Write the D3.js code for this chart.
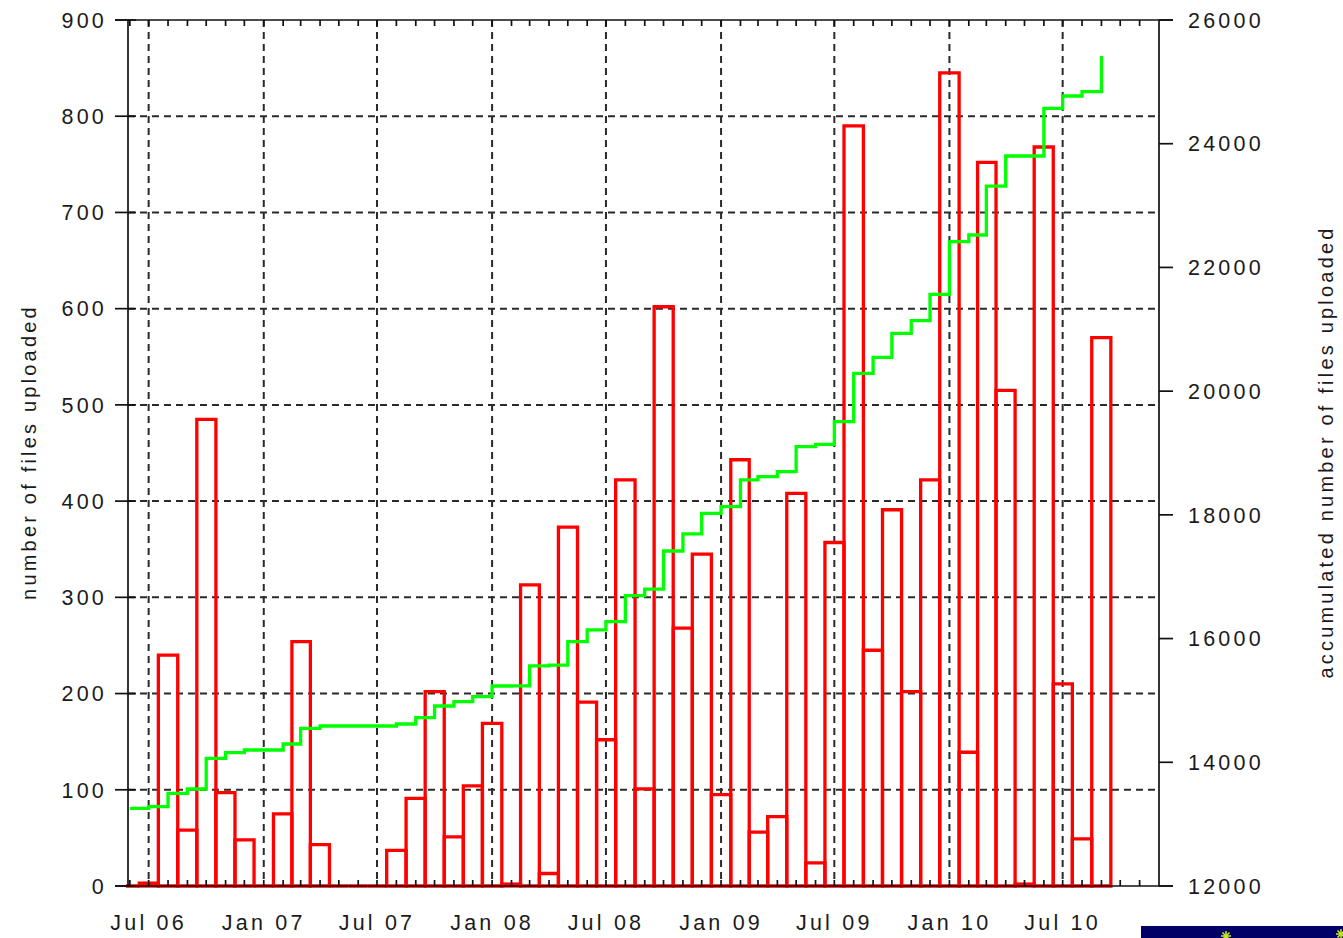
<!DOCTYPE html>
<html>
<head>
<meta charset="utf-8">
<script src="https://cdn.jsdelivr.net/npm/d3@7"></script>
<style>
  html, body { margin: 0; padding: 0; background: #fff; }
  svg { display: block; }
  text { font-family: "Liberation Sans", Arial, Helvetica, sans-serif; fill: #1a1a1a; }
</style>
</head>
<body>
<svg id="chart" width="1343" height="938"></svg>
<script>
// ---- data ----
const months = [
  "2006-06","2006-07","2006-08","2006-09","2006-10","2006-11","2006-12",
  "2007-01","2007-02","2007-03","2007-04","2007-05","2007-06","2007-07","2007-08","2007-09","2007-10","2007-11","2007-12",
  "2008-01","2008-02","2008-03","2008-04","2008-05","2008-06","2008-07","2008-08","2008-09","2008-10","2008-11","2008-12",
  "2009-01","2009-02","2009-03","2009-04","2009-05","2009-06","2009-07","2009-08","2009-09","2009-10","2009-11","2009-12",
  "2010-01","2010-02","2010-03","2010-04","2010-05","2010-06","2010-07","2010-08","2010-09"
];
const uploads = [
  0, 3, 240, 58, 485, 97, 48,
  0, 75, 254, 43, 0, 0, 0, 37, 91, 202, 51, 104,
  169, 2, 313, 13, 373, 191, 152, 422, 101, 602, 268, 345,
  95, 443, 56, 72, 408, 24, 357, 790, 245, 391, 202, 422,
  845, 139, 752, 515, 2, 768, 210, 49, 570
];
const accumulated = [
  13256, 13282, 13499, 13568, 14064, 14155, 14199,
  14199, 14296, 14549, 14587, 14587, 14587, 14587, 14619, 14721, 14910, 14980, 15060,
  15233, 15236, 15557, 15571, 15950, 16139, 16273, 16693, 16800, 17416, 17691, 18025,
  18132, 18564, 18617, 18698, 19102, 19140, 19506, 20288, 20547, 20935, 21139, 21565,
  22416, 22524, 23316, 23801, 23801, 24572, 24771, 24841, 25418
];
const leftTicks = [0, 100, 200, 300, 400, 500, 600, 700, 800, 900];
const rightTicks = [12000, 14000, 16000, 18000, 20000, 22000, 24000, 26000];
const xTickDates = ["2006-07","2007-01","2007-07","2008-01","2008-07","2009-01","2009-07","2010-01","2010-07"];
const xTickLabels = ["Jul 06","Jan 07","Jul 07","Jan 08","Jul 08","Jan 09","Jul 09","Jan 10","Jul 10"];
const leftTitle = "number of files uploaded";
const rightTitle = "accumulated number of files uploaded";

// ---- layout ----
const L = 128, R = 1159, T = 20, B = 886;
const parse = d3.utcParse("%Y-%m");
const svg = d3.select("#chart");
svg.append("rect").attr("width", 1343).attr("height", 938).attr("fill", "#fff");

const x = d3.scaleUtc()
  .domain([new Date(Date.UTC(2006, 4, 29)), new Date(Date.UTC(2010, 11, 2))])
  .range([L, R]);
const y = d3.scaleLinear().domain([0, 900]).range([B, T]);
const y2 = d3.scaleLinear().domain([12000, 26000]).range([B, T]);

const monthDates = months.map(parse);

// clip
svg.append("defs").append("clipPath").attr("id", "plotclip")
  .append("rect").attr("x", L - 2).attr("y", T).attr("width", R - L + 2).attr("height", B - T + 3);

// ---- grid (behind data) ----
const grid = svg.append("g").attr("stroke", "#2a2a2a").attr("stroke-width", 2)
  .attr("stroke-dasharray", "7,5");
grid.selectAll("line.h").data(leftTicks.slice(1, -1)).join("line").attr("class", "h")
  .attr("x1", L).attr("x2", R).attr("y1", d => y(d)).attr("y2", d => y(d));
grid.selectAll("line.v").data(xTickDates.map(parse)).join("line").attr("class", "v")
  .attr("x1", d => x(d)).attr("x2", d => x(d)).attr("y1", T).attr("y2", B);

// ---- bars (monthly boxes, centred on the 1st of each month) ----
const edge = (d, k) => x(new Date((+d + +d3.utcMonth.offset(d, k)) / 2));
const bars = svg.append("g").attr("clip-path", "url(#plotclip)");
bars.selectAll("path").data(monthDates.map((d, i) => ({d, v: uploads[i]}))).join("path")
  .attr("d", o => {
    const xl = edge(o.d, -1), xr = edge(o.d, 1), y0 = y(0), yv = y(o.v);
    return `M${xl},${y0}V${yv}H${xr}V${y0}Z`;
  })
  .attr("fill", "none").attr("stroke", "#ff0000").attr("stroke-width", 3.3)
  .attr("stroke-linejoin", "miter");

// ---- accumulated step line ----
const line = d3.line().x((d, i) => x(monthDates[i])).y(d => y2(d)).curve(d3.curveStepAfter);
svg.append("path").attr("clip-path", "url(#plotclip)").datum(accumulated)
  .attr("d", line).attr("fill", "none").attr("stroke", "#00ff00").attr("stroke-width", 3.3);

// ---- axes ----
const axG = svg.append("g").attr("stroke", "#111").attr("stroke-width", 1.7).attr("fill", "none");
axG.append("line").attr("x1", L).attr("x2", L).attr("y1", T).attr("y2", B);
axG.append("line").attr("x1", R).attr("x2", R).attr("y1", T).attr("y2", B);
axG.append("line").attr("x1", L - 13).attr("x2", R + 14).attr("y1", T).attr("y2", T);
axG.append("line").attr("x1", L - 13).attr("x2", R + 14).attr("y1", B).attr("y2", B);

axG.selectAll("line.lt").data(leftTicks).join("line").attr("class", "lt")
  .attr("x1", L - 13).attr("x2", L + 8).attr("y1", d => y(d)).attr("y2", d => y(d));
axG.selectAll("line.rt").data(rightTicks).join("line").attr("class", "rt")
  .attr("x1", R).attr("x2", R + 14).attr("y1", d => y2(d)).attr("y2", d => y2(d));
const allMonths = d3.utcMonth.range(new Date(Date.UTC(2006, 5, 1)), new Date(Date.UTC(2010, 11, 1)));
axG.selectAll("line.mb").data(allMonths).join("line").attr("class", "mb")
  .attr("x1", d => x(d)).attr("x2", d => x(d)).attr("y1", B).attr("y2", B - 6);
axG.selectAll("line.mt").data(allMonths).join("line").attr("class", "mt")
  .attr("x1", d => x(d)).attr("x2", d => x(d)).attr("y1", T).attr("y2", T + 6);

// tick labels
const tl = svg.append("g").attr("font-size", 21.5).attr("letter-spacing", "3.2px");
tl.selectAll("text.l").data(leftTicks).join("text").attr("class", "l")
  .attr("x", 107).attr("y", d => y(d)).attr("dy", "0.36em").attr("text-anchor", "end")
  .text(d => d);
tl.selectAll("text.r").data(rightTicks).join("text").attr("class", "r")
  .attr("x", 1188).attr("y", d => y2(d)).attr("dy", "0.36em").attr("text-anchor", "start")
  .text(d => d);
tl.selectAll("text.b").data(xTickDates).join("text").attr("class", "b")
  .attr("x", d => x(parse(d)) + 0).attr("y", 930).attr("text-anchor", "middle")
  .text((d, i) => xTickLabels[i]);

// axis titles
const tt = svg.append("g").attr("font-size", 20).attr("letter-spacing", "3.2px");
tt.append("text").attr("transform", "translate(36,452) rotate(-90)")
  .attr("text-anchor", "middle").text(leftTitle);
tt.append("text").attr("transform", "translate(1333,452) rotate(-90)")
  .attr("text-anchor", "middle").text(rightTitle);

// footer banner fragment at bottom-right
const ft = svg.append("g");
ft.append("rect").attr("x", 1141).attr("y", 926).attr("width", 202).attr("height", 12).attr("fill", "#000066");
[[1226, 936], [1341, 934]].forEach(([cx, cy]) => {
  d3.range(8).forEach(k => {
    const a = k * Math.PI / 4;
    ft.append("line").attr("x1", cx).attr("y1", cy)
      .attr("x2", cx + 5 * Math.cos(a)).attr("y2", cy + 5 * Math.sin(a))
      .attr("stroke", "#ccee22").attr("stroke-width", 1.5);
  });
});
</script>
</body>
</html>
